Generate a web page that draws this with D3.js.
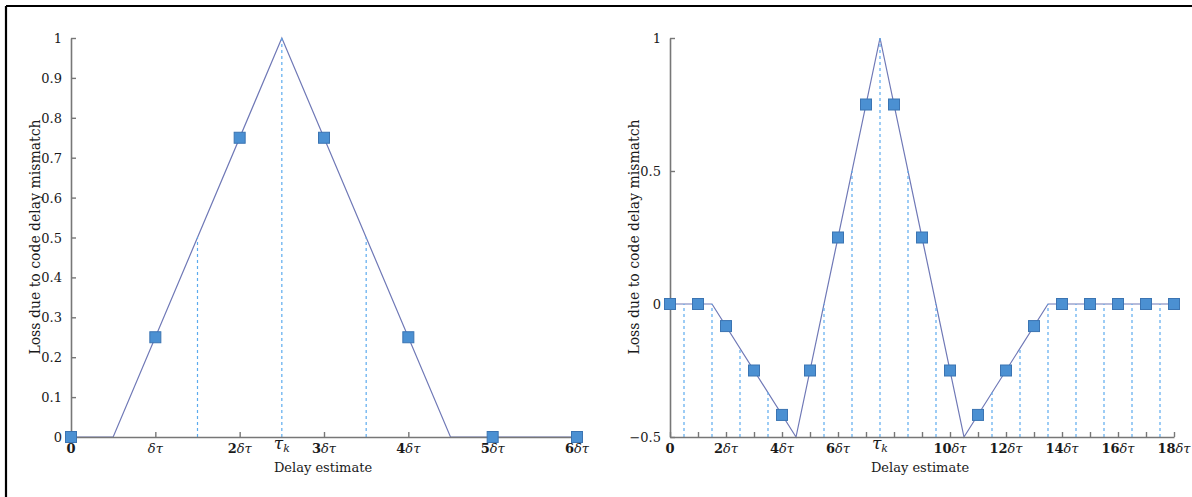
<!DOCTYPE html>
<html><head><meta charset="utf-8">
<script src="https://cdn.jsdelivr.net/npm/d3@7"></script>
<style>
body{margin:0;background:#fff;}
svg{display:block;}
text{font-family:"DejaVu Serif",serif;fill:#1a1a1a;}
</style></head><body>
<svg id="chart" width="1192" height="497"></svg>
<script>
// ---- Left chart data ----
const leftMarkX = [0, 1, 2, 3, 4, 5, 6];
const leftMarkY = [0, 0.25, 0.75, 0.75, 0.25, 0, 0];
const leftCurveX = [0, 0.5, 2.5, 4.5, 6];
const leftCurveY = [0, 0, 1, 0, 0];
const leftGuideX = [0.5, 1.5, 2.5, 3.5, 4.5, 5.5];
const leftGuideY = [0, 0.5, 1, 0.5, 0, 0];
const leftXTicks = [0, 1, 2, 3, 4, 5, 6];
const leftXLabelPos = [0, 1, 2, 2.5, 3, 4, 5, 6];
const leftXLabels = ["0", "δτ", "2δτ", "τk", "3δτ", "4δτ", "5δτ", "6δτ"];
const leftYTicks = [0, 0.1, 0.2, 0.3, 0.4, 0.5, 0.6, 0.7, 0.8, 0.9, 1];

// ---- Right chart data ----
const rightMarkX = [0,1,2,3,4,5,6,7,8,9,10,11,12,13,14,15,16,17,18];
const rightMarkY = [0, 0, -0.083, -0.25, -0.417, -0.25, 0.25, 0.75, 0.75, 0.25, -0.25, -0.417, -0.25, -0.083, 0, 0, 0, 0, 0];
const rightCurveX = [0, 1.5, 4.5, 7.5, 10.5, 13.5, 18];
const rightCurveY = [0, 0, -0.5, 1, -0.5, 0, 0];
const rightGuideX = [0.5,1.5,2.5,3.5,4.5,5.5,6.5,7.5,8.5,9.5,10.5,11.5,12.5,13.5,14.5,15.5,16.5,17.5];
const rightGuideY = [0, 0, -0.167, -0.333, -0.5, 0, 0.5, 1, 0.5, 0, -0.5, -0.333, -0.167, 0, 0, 0, 0, 0];
const rightXTicks = [0,1,2,3,4,5,6,7,8,9,10,11,12,13,14,15,16,17,18];
const rightXLabelPos = [0, 2, 4, 6, 7.5, 10, 12, 14, 16, 18];
const rightXLabels = ["0", "2δτ", "4δτ", "6δτ", "τk", "10δτ", "12δτ", "14δτ", "16δτ", "18δτ"];
const rightYTicks = [-0.5, 0, 0.5, 1];

const yTitle = "Loss due to code delay mismatch";
const xTitle = "Delay estimate";

const svg = d3.select("#chart");

// frame (top and left border)
svg.append("line").attr("x1", 6).attr("x2", 1192).attr("y1", 6).attr("y2", 6).attr("stroke", "#000").attr("stroke-width", 2.2);
svg.append("line").attr("x1", 6).attr("x2", 6).attr("y1", 6).attr("y2", 497).attr("stroke", "#000").attr("stroke-width", 2.2);

function drawChart(cfg) {
  const x = d3.scaleLinear().domain(cfg.xDomain).range(cfg.xRange);
  const y = d3.scaleLinear().domain(cfg.yDomain).range([437, 38]);
  const g = svg.append("g");

  // curve
  const line = d3.line().x((d, i) => x(cfg.curveX[i])).y((d, i) => y(cfg.curveY[i]));
  g.append("path").datum(cfg.curveX).attr("d", line)
    .attr("fill", "none").attr("stroke", "#6f78b6").attr("stroke-width", 1.2);

  // dashed guides
  g.selectAll(".guide").data(cfg.guideX).enter().append("line")
    .attr("x1", d => x(d)).attr("x2", d => x(d))
    .attr("y1", y(cfg.yDomain[0])).attr("y2", (d, i) => y(cfg.guideY[i]))
    .attr("stroke", "#5cabee").attr("stroke-width", 1.2).attr("stroke-dasharray", "3,3");

  // axes
  const xAxis = d3.axisBottom(x).tickValues(cfg.xTicks).tickFormat("").tickSizeInner(-5).tickSizeOuter(0);
  const ax = g.append("g").attr("transform", `translate(0,${y(cfg.yDomain[0])})`).call(xAxis);
  const yAxis = d3.axisLeft(y).tickValues(cfg.yTicks).tickFormat(d3.format("")).tickSizeInner(-5).tickSizeOuter(0).tickPadding(9);
  const ay = g.append("g").attr("transform", `translate(${x(cfg.xDomain[0])},0)`).call(yAxis);
  [ax, ay].forEach(a => {
    a.select(".domain").attr("stroke", "#777").attr("stroke-width", 1.6);
    a.selectAll(".tick line").attr("stroke", "#777").attr("stroke-width", 1.4);
  });
  ay.selectAll(".tick text").style("font-family", "DejaVu Serif").style("font-size", "13px").attr("fill", "#1a1a1a")
    .attr("dy", "0.35em");

  // x tick labels
  const lab = g.selectAll(".xl").data(cfg.xLabelPos).enter().append("text")
    .attr("x", d => x(d)).attr("y", (d, i) => cfg.xLabels[i] === "τk" ? 449 : 453)
    .attr("text-anchor", "middle").style("font-size", "13px");
  lab.each(function(d, i) {
    const s = cfg.xLabels[i];
    const t = d3.select(this);
    if (s === "τk") {
      t.append("tspan").text("τ").style("font-style", "italic").style("font-size", "17px");
      t.append("tspan").text("k").style("font-style", "italic").style("font-size", "11px").attr("dy", 3);
    } else if (s.endsWith("δτ")) {
      const n = s.slice(0, -2);
      if (n) t.append("tspan").text(n).style("font-weight", "bold");
      t.append("tspan").text("δτ").style("font-style", "italic");
    } else {
      t.text(s).style("font-weight", "bold");
    }
  });

  // markers
  const ms = 11;
  g.selectAll(".mk").data(cfg.markX).enter().append("rect")
    .attr("x", d => x(d) - ms / 2).attr("y", (d, i) => y(cfg.markY[i]) - ms / 2)
    .attr("width", ms).attr("height", ms)
    .attr("fill", "#4b90d2").attr("stroke", "#3b74b2").attr("stroke-width", 1);

  // titles
  g.append("text").attr("x", cfg.xTitleX).attr("y", 472).attr("text-anchor", "middle")
    .style("font-size", "13px").text(xTitle);
  g.append("text").attr("transform", `translate(${cfg.yTitleX},237) rotate(-90)`).attr("text-anchor", "middle")
    .style("font-size", "14px").text(yTitle);
}

drawChart({
  xDomain: [0, 6], xRange: [71, 577], yDomain: [0, 1],
  curveX: leftCurveX, curveY: leftCurveY, guideX: leftGuideX, guideY: leftGuideY,
  markX: leftMarkX, markY: leftMarkY, xTicks: leftXTicks, xLabelPos: leftXLabelPos, xLabels: leftXLabels,
  yTicks: leftYTicks, xTitleX: 323, yTitleX: 40
});
drawChart({
  xDomain: [0, 18], xRange: [670, 1174], yDomain: [-0.5, 1],
  curveX: rightCurveX, curveY: rightCurveY, guideX: rightGuideX, guideY: rightGuideY,
  markX: rightMarkX, markY: rightMarkY, xTicks: rightXTicks, xLabelPos: rightXLabelPos, xLabels: rightXLabels,
  yTicks: rightYTicks, xTitleX: 920, yTitleX: 639
});
</script>
</body></html>
